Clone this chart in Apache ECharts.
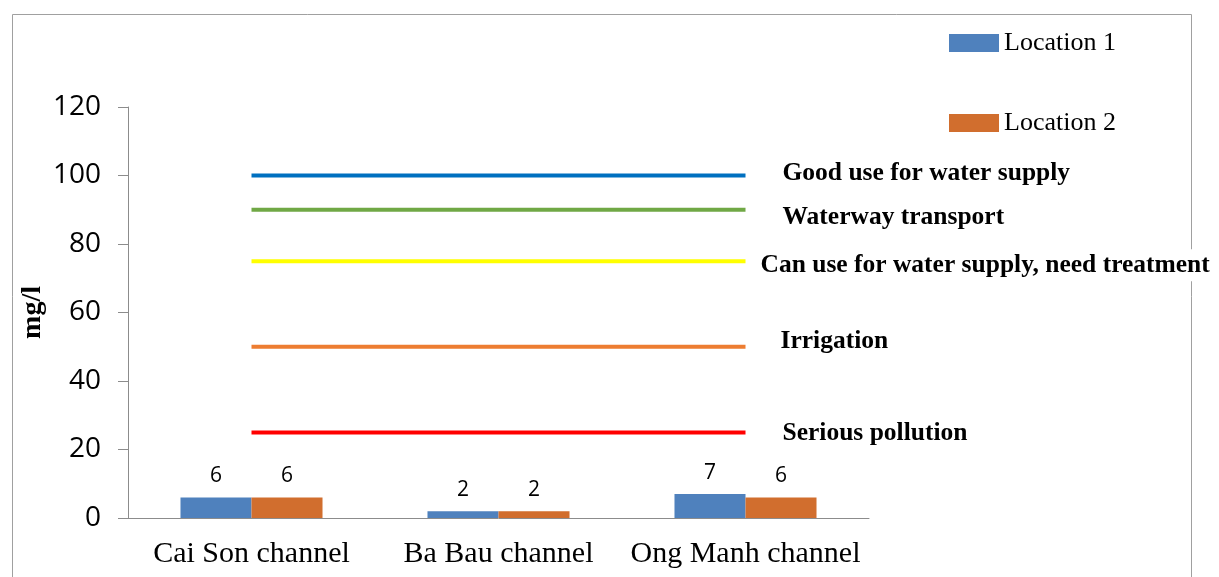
<!DOCTYPE html>
<html>
<head>
<meta charset="utf-8">
<script src="https://cdn.jsdelivr.net/npm/echarts@6/dist/echarts.min.js"></script>
<style>
html,body{margin:0;padding:0;background:#fff;}
#main{width:1219px;height:577px;}
</style>
</head>
<body>
<div id="main"></div>
<script>
var categories = ['Cai Son channel', 'Ba Bau channel', 'Ong Manh channel'];
var location1 = [6, 2, 7];
var location2 = [6, 2, 6];
var thresholdNames = ['Good use for water supply', 'Waterway transport', 'Can use for water supply, need treatment', 'Irrigation', 'Serious pollution'];
var thresholdValues = [100, 90, 75, 50, 25];
var thresholdColors = ['#0070C0', '#70A845', '#FFFF00', '#ED7D31', '#FF0000'];
var labelOffsets = [[35, -2], [35, 8], [13, 4], [33, -5], [35, 1]];
var yTicks = [0, 20, 40, 60, 80, 100, 120];

var chart = echarts.init(document.getElementById('main'));
var serif = '"Liberation Serif", "Times New Roman", serif';
var sans = '"Open Sans", "Noto Sans", sans-serif';

var series = [
  {
    name: 'Location 1', type: 'bar', data: location1, barGap: '0%', barCategoryGap: '42.5%',
    itemStyle: { color: '#4F81BD' },
    label: { show: true, position: 'top', distance: 11, fontFamily: sans, fontSize: 21, color: '#000' }
  },
  {
    name: 'Location 2', type: 'bar', data: location2, barGap: '0%', barCategoryGap: '42.5%',
    itemStyle: { color: '#D16E2E' },
    label: { show: true, position: 'top', distance: 11, fontFamily: sans, fontSize: 21, color: '#000' }
  }
];
thresholdNames.forEach(function (n, i) {
  series.push({
    name: n, type: 'line', silent: true, symbol: 'none',
    data: categories.map(function () { return thresholdValues[i]; }),
    lineStyle: { color: thresholdColors[i], width: 4 },
    itemStyle: { color: thresholdColors[i] },
    endLabel: {
      show: true, formatter: n, distance: 0, offset: labelOffsets[i],
      fontFamily: serif, fontWeight: 'bold', fontSize: 25.5, color: '#000',
      backgroundColor: '#fff', padding: [3, 2]
    },
    z: 1
  });
});

chart.setOption({
  animation: false,
  backgroundColor: '#fff',
  grid: { left: 128, right: 350, top: 107, bottom: 59, containLabel: false },
  legend: {
    data: ['Location 1', 'Location 2'],
    orient: 'vertical', left: 944, top: 25,
    icon: 'rect',
    itemWidth: 50, itemHeight: 18, itemGap: 54,
    textStyle: { fontFamily: serif, fontSize: 26, color: '#000' }
  },
  xAxis: {
    type: 'category', data: categories,
    axisLine: { lineStyle: { color: '#8c8c8c', width: 1 } },
    axisTick: { show: false },
    axisLabel: { interval: 0, fontFamily: serif, fontSize: 30, color: '#000', margin: 21 }
  },
  yAxis: {
    type: 'value', min: 0, max: 120, interval: 20,
    name: 'mg/l', nameLocation: 'middle', nameRotate: 90, nameGap: 81, nameMoveOverlap: false,
    nameTextStyle: { fontFamily: serif, fontWeight: 'bold', fontSize: 28, color: '#000' },
    axisLine: { show: true, lineStyle: { color: '#8c8c8c', width: 1 } },
    axisTick: { show: true, length: 10, lineStyle: { color: '#8c8c8c' } },
    splitLine: { show: false },
    axisLabel: { fontFamily: sans, fontSize: 28, color: '#000', margin: 27 }
  },
  graphic: [{
    type: 'rect', z: -10, silent: true,
    shape: { x: 12.5, y: 14.5, width: 1179, height: 600 },
    style: { fill: 'none', stroke: '#a0a0a0', lineWidth: 1 }
  }],
  series: series
});
</script>
</body>
</html>
